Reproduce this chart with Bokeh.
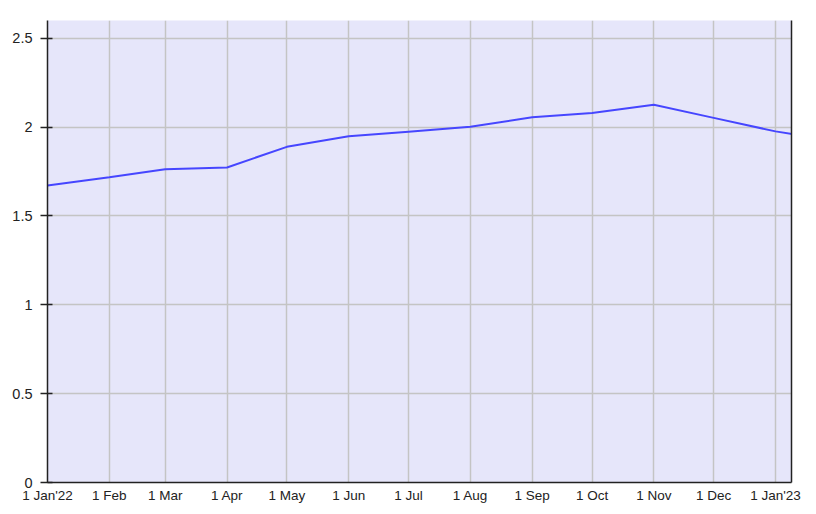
from datetime import datetime
from bokeh.plotting import figure
from bokeh.models import FixedTicker, LinearAxis, Range1d, ColumnDataSource
from bokeh.embed import file_html
from bokeh.resources import INLINE

# ---- data ----
dates = ["2022-01-01", "2022-02-01", "2022-03-01", "2022-04-01", "2022-05-01",
         "2022-06-01", "2022-07-01", "2022-08-01", "2022-09-01", "2022-10-01",
         "2022-11-01", "2022-12-01", "2023-01-01", "2023-02-01"]
values = [1.671, 1.718, 1.763, 1.773, 1.889, 1.948, 1.974, 2.002, 2.055, 2.079,
          2.126, 2.052, 1.976, 1.922]
x_tick_dates = ["2022-01-01", "2022-02-01", "2022-03-01", "2022-04-01", "2022-05-01",
                "2022-06-01", "2022-07-01", "2022-08-01", "2022-09-01", "2022-10-01",
                "2022-11-01", "2022-12-01", "2023-01-01"]
x_tick_labels = ["1 Jan'22", "1 Feb", "1 Mar", "1 Apr", "1 May", "1 Jun", "1 Jul",
                 "1 Aug", "1 Sep", "1 Oct", "1 Nov", "1 Dec", "1 Jan'23"]
y_ticks = [0, 0.5, 1, 1.5, 2, 2.5]
y_tick_labels = ["0", "0.5", "1", "1.5", "2", "2.5"]
x_start = "2022-01-01"
x_end = "2023-01-09"
y_start, y_end = 0, 2.6


def ms(s):
    return datetime.strptime(s, "%Y-%m-%d").timestamp() * 1000.0


xs = [ms(d) for d in dates]
src = ColumnDataSource(dict(x=xs, y=values))

p = figure(width=808, height=505, output_backend="svg", toolbar_location=None,
           x_axis_type="datetime",
           x_range=Range1d(ms(x_start), ms(x_end)),
           y_range=Range1d(y_start, y_end),
           min_border_left=47, min_border_right=17, min_border_top=20,
           min_border_bottom=15)

p.background_fill_color = "#E6E6FA"
p.border_fill_color = "white"
p.outline_line_color = None

p.line("x", "y", source=src, line_color="#4646FF", line_width=2)

font = "Liberation Sans"
tick_ms = [ms(d) for d in x_tick_dates]

xa = p.xaxis[0]
xa.ticker = FixedTicker(ticks=tick_ms)
xa.major_label_overrides = {t: l for t, l in zip(tick_ms, x_tick_labels)}
xa.major_tick_in = 0
xa.major_tick_out = 0
xa.minor_tick_in = 0
xa.minor_tick_out = 0
xa.axis_line_color = "#222222"
xa.axis_line_width = 1.5
xa.major_label_text_font = font
xa.major_label_text_font_size = "13.5px"
xa.major_label_text_color = "#222222"
xa.major_label_standoff = 5

ya = p.yaxis[0]
ya.ticker = FixedTicker(ticks=y_ticks)
ya.major_label_overrides = {t: l for t, l in zip(y_ticks, y_tick_labels)}
ya.major_tick_in = 5
ya.major_tick_out = 7
ya.minor_tick_in = 0
ya.minor_tick_out = 0
ya.major_tick_line_color = "#222222"
ya.major_tick_line_width = 1.5
ya.axis_line_color = "#222222"
ya.axis_line_width = 1.5
ya.major_label_text_font = font
ya.major_label_text_font_size = "14.5px"
ya.major_label_text_color = "#222222"
ya.major_label_standoff = 8

right = LinearAxis(ticker=FixedTicker(ticks=[]), major_tick_in=0, major_tick_out=0,
                   minor_tick_in=0, minor_tick_out=0, major_label_standoff=0,
                   major_label_text_font_size="0px",
                   axis_line_color="#222222", axis_line_width=1.5)
p.add_layout(right, "right")

p.xgrid.grid_line_color = "#C4C4C4"
p.xgrid.grid_line_width = 1.5
p.xgrid.ticker = FixedTicker(ticks=tick_ms)
p.ygrid.grid_line_color = "#C4C4C4"
p.ygrid.grid_line_width = 1.5
p.ygrid.ticker = FixedTicker(ticks=y_ticks)

open("out.html", "w").write(file_html(p, INLINE))
